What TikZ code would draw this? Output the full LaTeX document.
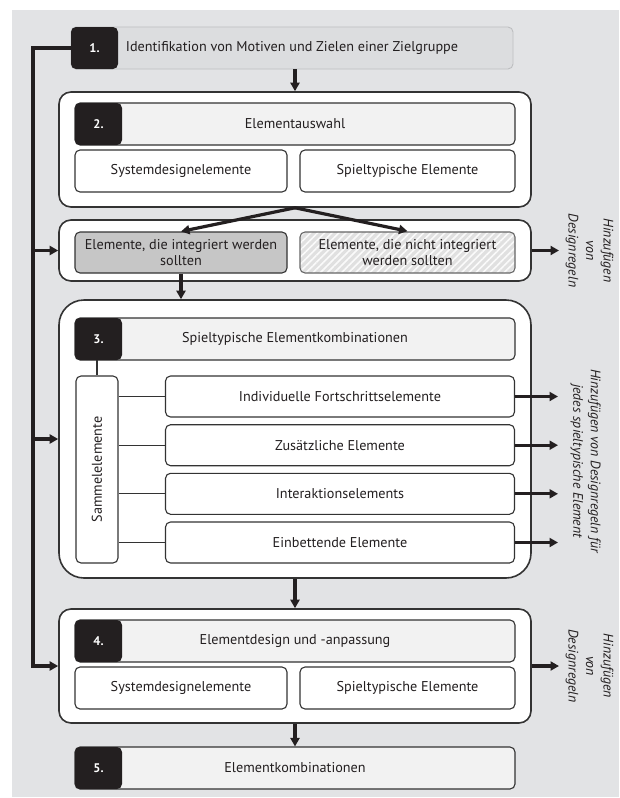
\documentclass[tikz,border=0pt]{standalone}
\usepackage{fontspec}
\setmainfont{PT Sans}
\usetikzlibrary{arrows.meta,patterns.meta}
\definecolor{bggray}{HTML}{E2E3E5}
\definecolor{onegray}{HTML}{DCDDDF}
\definecolor{oneline}{HTML}{BDBEC0}
\definecolor{hdrgray}{HTML}{F2F2F2}
\definecolor{linegray}{HTML}{333333}
\definecolor{numblack}{HTML}{231F20}
\definecolor{darkfill}{HTML}{C6C6C6}
\definecolor{hatchfill}{HTML}{E0E0E0}
\begin{document}
\begin{tikzpicture}[x=1pt,y=-1pt,
  txt/.style={font=\fontsize{14.2}{16.5}\selectfont, text=numblack},
  outerbox/.style={draw=linegray, line width=1.6pt, fill=white, rounded corners=12pt, inner sep=0pt},
  innerbox/.style={txt, draw=linegray, line width=1.1pt, fill=white, rounded corners=5pt, inner sep=0pt},
  hdrbox/.style={innerbox, fill=hdrgray},
  numbox/.style={fill=numblack, rounded corners=5pt, text=white, inner sep=0pt,
    font=\fontsize{12.5}{14}\selectfont\bfseries, minimum width=47pt, minimum height=42pt},
  rottext/.style={font=\fontsize{13.8}{17.5}\selectfont\itshape, text=numblack, align=center, inner sep=0pt},
  arr/.style={draw=numblack, line width=3.2pt, -{Triangle[length=8.5pt,width=9pt]}},
  thin/.style={draw=linegray, line width=1.3pt}
]
\useasboundingbox (0,0) rectangle (619,798);
\fill[bggray] (12,10) rectangle (619,797);

% Step 1
\node[txt, draw=oneline, line width=0.9pt, fill=onegray, rounded corners=5pt,
  minimum width=442pt, minimum height=42pt, inner sep=0pt] (b1) at (292,48)
  {Identifikation von Motiven und Zielen einer Zielgruppe};
\node[numbox] (k1) at (94.5,48) {1.};

% Step 2
\node[outerbox, minimum width=472pt, minimum height=115pt] (o2) at (295,149.5) {};
\node[hdrbox, minimum width=440pt, minimum height=42pt] (h2) at (295,124) {Elementauswahl};
\node[numbox] (k2) at (98.5,124) {2.};
\node[innerbox, minimum width=212pt, minimum height=42pt] (s2a) at (181,171) {Systemdesignelemente};
\node[innerbox, minimum width=215pt, minimum height=42pt] (s2b) at (407.5,171) {Spieltypische Elemente};

% Selection
\node[outerbox, minimum width=472pt, minimum height=61pt] (om) at (295,250.5) {};
\node[innerbox, fill=darkfill, minimum width=212pt, minimum height=41pt, align=center] (d) at (181,252.5)
  {Elemente, die integriert werden\\sollten};
\node[innerbox, preaction={fill=hatchfill}, fill=none,
  pattern={Lines[angle=45,distance=5pt,line width=1.6pt]}, pattern color=white!85!hatchfill,
  draw=gray!80!black, minimum width=215pt, minimum height=41pt, align=center] (n) at (407.5,252.5)
  {Elemente, die nicht integriert\\werden sollten};

% Step 3
\node[outerbox, rounded corners=25pt, minimum width=472pt, minimum height=278pt] (o3) at (295,439) {};
\node[hdrbox, minimum width=440pt, minimum height=42pt] (h3) at (295,339) {Spieltypische Elementkombinationen};
\node[numbox] (k3) at (98.5,339) {3.};
\node[innerbox, minimum width=42pt, minimum height=187pt] (sm) at (97,469.5)
  {\rotatebox{90}{Sammelelemente}};
\node[innerbox, minimum width=349pt, minimum height=41pt] (r1) at (340,396.5) {Individuelle Fortschrittselemente};
\node[innerbox, minimum width=349pt, minimum height=41pt] (r2) at (340,445.2) {Zusätzliche Elemente};
\node[innerbox, minimum width=349pt, minimum height=41pt] (r3) at (340,493.8) {Interaktionselements};
\node[innerbox, minimum width=349pt, minimum height=41pt] (r4) at (340,542.5) {Einbettende Elemente};

% Step 4
\node[outerbox, minimum width=472pt, minimum height=114pt] (o4) at (295,666) {};
\node[hdrbox, minimum width=440pt, minimum height=42pt] (h4) at (295,641) {Elementdesign und -anpassung};
\node[numbox] (k4) at (98.5,641) {4.};
\node[innerbox, minimum width=212pt, minimum height=42pt] (s4a) at (181,688) {Systemdesignelemente};
\node[innerbox, minimum width=215pt, minimum height=42pt] (s4b) at (407.5,688) {Spieltypische Elemente};

% Step 5
\node[hdrbox, minimum width=440pt, minimum height=42pt] (b5) at (295,768) {Elementkombinationen};
\node[numbox] (k5) at (98.5,768) {5.};

% right-hand texts
\node[rottext, rotate=-90] (t1) at (589.5,250.5) {Hinzufügen\\von\\Designregeln};
\node[rottext, rotate=-90] (t3) at (585.5,461) {Hinzufügen von Designregeln für\\jedes spieltypische Element};
\node[rottext, rotate=-90] (t4) at (589.5,666) {Hinzufügen\\von\\Designregeln};

\coordinate (e1) at (559,250.5);
\coordinate (e4) at (559,666);
\coordinate (er1) at (558,396.5);
\coordinate (er2) at (558,445.2);
\coordinate (er3) at (558,493.8);
\coordinate (er4) at (558,542.5);
\coordinate (lbot) at (33,666);

% connectors
\draw[arr] (o2.north |- b1.south) -- (o2.north);
\draw[arr, shorten <=-0.5pt] (o2.south) -- (d.north);
\draw[arr, shorten <=-0.5pt] (o2.south) -- (n.north);
\draw[arr] (d.south) -- (d.south |- o3.north);
\draw[arr] (o3.south) -- (o4.north);
\draw[arr] (o4.south) -- (b5.north);

\draw[arr] (k1.west) -| (lbot) -- (o4.west);
\draw[arr] (om.west -| lbot) -- (om.west);
\draw[arr] (o3.west -| lbot) -- (o3.west);

\draw[arr] (om.east) -- (e1);
\draw[arr] (o4.east) -- (e4);
\draw[arr] (r1.east) -- (er1);
\draw[arr] (r2.east) -- (er2);
\draw[arr] (r3.east) -- (er3);
\draw[arr] (r4.east) -- (er4);

\draw[thin] (sm.north |- k3.south) -- (sm.north);
\draw[thin] (sm.east |- r1.west) -- (r1.west);
\draw[thin] (sm.east |- r2.west) -- (r2.west);
\draw[thin] (sm.east |- r3.west) -- (r3.west);
\draw[thin] (sm.east |- r4.west) -- (r4.west);
\end{tikzpicture}
\end{document}
